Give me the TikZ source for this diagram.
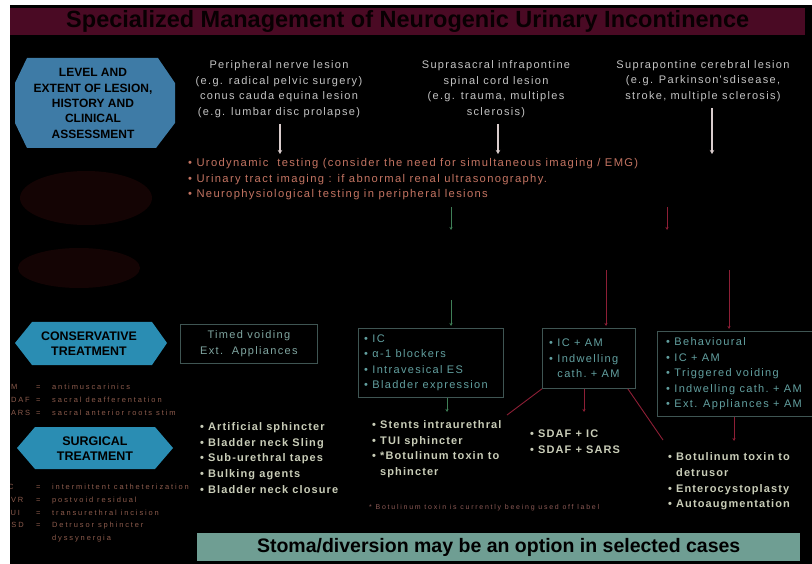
\documentclass[tikz,border=0pt]{standalone}
\usepackage{fontspec}
\setmainfont{Liberation Sans}
\newfontfamily\spaced[LetterSpace=12]{Liberation Sans}
\newfontfamily\spacedb[LetterSpace=10]{Liberation Sans}
\newfontfamily\spacedt[LetterSpace=25]{Liberation Sans}
\usetikzlibrary{arrows.meta}
\definecolor{titlebar}{HTML}{4A0A24}
\definecolor{titletext}{HTML}{080002}
\definecolor{lvlblue}{HTML}{3E7BA6}
\definecolor{hexblue}{HTML}{2A8DB3}
\definecolor{lblcol}{HTML}{C4C4C4}
\definecolor{salmon}{HTML}{C47462}
\definecolor{tealtxt}{HTML}{62A0A0}
\definecolor{tealgray}{HTML}{80A6A1}
\definecolor{boxline}{HTML}{3F5553}
\definecolor{surgcol}{HTML}{C9CDB8}
\definecolor{abbrcol}{HTML}{8C5B4C}
\definecolor{footcol}{HTML}{8C5A55}
\definecolor{barcol}{HTML}{6F9E93}
\definecolor{redline}{HTML}{8E1F36}
\definecolor{greenline}{HTML}{3F7F57}
\definecolor{darkell}{HTML}{140404}
\definecolor{arrcol}{HTML}{D9CCCC}
\begin{document}
\begin{tikzpicture}[x=1pt,y=-1pt,
  titlestyle/.style={fill=titlebar, inner sep=0pt, text=titletext, font=\bfseries\fontsize{23.5}{26}\selectfont},
  hexlbl/.style={align=center, inner sep=0pt, text=black},
  lbl/.style={font=\spaced\fontsize{11}{15.5}\selectfont, text=lblcol, align=center, inner sep=0pt},
  salm/.style={font=\spaced\fontsize{11.2}{15.7}\selectfont, text=salmon, align=left, inner sep=0pt},
  cbox/.style={draw=boxline, line width=0.8pt, inner sep=0pt},
  btxt/.style={font=\spaced\fontsize{11}{15.6}\selectfont, text=tealtxt, align=left, inner sep=0pt},
  surg/.style={font=\spacedb\bfseries\fontsize{11}{15.6}\selectfont, text=surgcol, align=left, inner sep=0pt},
  abbr/.style={font=\spacedt\fontsize{7.5}{12.9}\selectfont, text=abbrcol, inner sep=0pt},
  foot/.style={font=\spacedt\fontsize{7}{9}\selectfont, text=footcol, inner sep=0pt},
  arr/.style={draw=arrcol, line width=1.6pt, -{Stealth[length=4pt,width=4.5pt]}},
  garr/.style={draw=greenline, line width=0.9pt, -{Stealth[length=3pt,width=3pt]}},
  rarr/.style={draw=redline, line width=0.9pt, -{Stealth[length=3pt,width=3pt]}},
  rline/.style={draw=redline, line width=0.9pt}]
\useasboundingbox (0,0) rectangle (812,564);
\fill[black] (0,0) rectangle (812,564);
% title
\node[titlestyle, anchor=north west, minimum width=795pt, minimum height=27pt] (title) at (10,8) {Specialized Management of Neurogenic Urinary Incontinence};
% level octagon
\fill[lvlblue] (27,58) -- (158,58) -- (175,83) -- (175,123) -- (156,148) -- (27,148) -- (15,123) -- (15,83) -- cycle;
\node[hexlbl, font=\bfseries\fontsize{12}{15.3}\selectfont] (level) at (93,103.5) {LEVEL AND\\EXTENT OF LESION,\\HISTORY AND\\CLINICAL\\ASSESSMENT};
% dark ellipses
\fill[darkell] (86,198) ellipse [x radius=66pt, y radius=27pt];
\fill[darkell] (79,268) ellipse [x radius=61pt, y radius=20pt];
% lesion labels
\node[lbl] (les1) at (279,89) {Peripheral nerve lesion\\(e.g. radical pelvic surgery)\\conus cauda equina lesion\\(e.g. lumbar disc prolapse)};
\node[lbl] (les2) at (496,89) {Suprasacral infrapontine\\spinal cord lesion\\(e.g. trauma, multiples\\sclerosis)};
\node[lbl] (les3) at (703,81) {Suprapontine cerebral lesion\\(e.g. Parkinson'sdisease,\\stroke, multiple sclerosis)};
% tests
\node[salm, anchor=north west] (tests) at (188,158) {• Urodynamic\ \ testing (consider the need for simultaneous imaging / EMG)\\• Urinary tract imaging : if abnormal renal ultrasonography.\\• Neurophysiological testing in peripheral lesions};
\coordinate (t1) at (280,124);
\coordinate (t2) at (498,124);
\coordinate (t3) at (712,108);
\draw[arr, shorten >=4pt] (t1) -- (t1 |- tests.north);
\draw[arr, shorten >=4pt] (t2) -- (t2 |- tests.north);
\draw[arr, shorten >=4pt] (t3) -- (t3 |- tests.north);
% conservative boxes
\node[cbox, anchor=north west, minimum width=137pt, minimum height=39pt, align=center, text=tealgray, font=\spaced\fontsize{11}{15.6}\selectfont] (box1) at (180,324) {Timed voiding\\Ext.\ \ Appliances};
\node[cbox, anchor=north west, minimum width=145pt, minimum height=69pt] (box2) at (358,328) {};
\node[btxt, anchor=west] (box2t) at ([xshift=6pt]box2.west) {• IC\\• α-1 blockers\\• Intravesical ES\\• Bladder expression};
\node[cbox, anchor=north west, minimum width=93pt, minimum height=60pt] (box3) at (542,328) {};
\node[btxt, anchor=west] (box3t) at ([xshift=7pt]box3.west) {• IC + AM\\• Indwelling\\\hphantom{• }cath.\ + AM};
\node[cbox, anchor=north west, minimum width=155pt, minimum height=85pt] (box4) at (657,331) {};
\node[btxt, anchor=west] (box4t) at ([xshift=9pt]box4.west) {• Behavioural\\• IC + AM\\• Triggered voiding\\• Indwelling cath.\ + AM\\• Ext. Appliances + AM};
% faint connectors between tests and boxes
\coordinate (g1a) at (451,207);
\coordinate (g1b) at (451,230);
\draw[garr] (g1a) -- (g1b);
\coordinate (r1a) at (667,207);
\coordinate (r1b) at (667,230);
\draw[rarr] (r1a) -- (r1b);
\coordinate (g2a) at (451,300);
\draw[garr, shorten >=2pt] (g2a) -- (g2a |- box2.north);
\coordinate (r2a) at (606,270);
\draw[rarr, shorten >=2pt] (r2a) -- (r2a |- box3.north);
\coordinate (r3a) at (729,270);
\draw[rarr, shorten >=2pt] (r3a) -- (r3a |- box4.north);
% hexagons
\fill[hexblue] (15,343) -- (32,322) -- (152,322) -- (167,343) -- (152,365) -- (32,365) -- cycle;
\node[hexlbl, font=\bfseries\fontsize{12.4}{15}\selectfont] (cons) at (89,343.5) {CONSERVATIVE\\TREATMENT};
\fill[hexblue] (17,448) -- (35,427) -- (155,427) -- (173,448) -- (155,469) -- (35,469) -- cycle;
\node[hexlbl, font=\bfseries\fontsize{12.5}{15}\selectfont] (surgh) at (95,448.5) {SURGICAL\\TREATMENT};
% abbreviations
\node[abbr, anchor=west] (ab1) at (4,400) {\begin{tabular}{@{}p{32pt}@{}p{16pt}@{}l@{}}AM & = & antimuscarinics\\SDAF & = & sacral deafferentation\\SARS & = & sacral anterior roots stim\end{tabular}};
\node[abbr, anchor=west] (ab2) at (4,512.5) {\begin{tabular}{@{}p{32pt}@{}p{16pt}@{}l@{}}IC & = & intermittent catheterization\\PVR & = & postvoid residual\\TUI & = & transurethral incision\\DSD & = & Detrusor sphincter\\ & & dyssynergia\end{tabular}};
% surgical lists
\node[surg, anchor=west] (sg1) at (200,458) {• Artificial sphincter\\• Bladder neck Sling\\• Sub-urethral tapes\\• Bulking agents\\• Bladder neck closure};
\node[surg, anchor=west] (sg2) at (372,449) {• Stents intraurethral\\• TUI sphincter\\• *Botulinum toxin to\\\hphantom{• }sphincter};
\node[surg, anchor=west] (sg3) at (530,441.5) {• SDAF + IC\\• SDAF + SARS};
\node[surg, anchor=west] (sg4) at (668,481.5) {• Botulinum toxin to\\\hphantom{• }detrusor\\• Enterocystoplasty\\• Autoaugmentation};
% connectors below boxes
\coordinate (c2) at (447,412);
\draw[garr] (box2.south -| c2) -- (c2);
\coordinate (c3a) at (507,415);
\draw[rline] (box3.south west) -- (c3a);
\coordinate (c3b) at (584,412);
\draw[rarr] (box3.south -| c3b) -- (c3b);
\coordinate (c3c) at (663,440);
\draw[rline] ([xshift=-8pt]box3.south east) -- (c3c);
\coordinate (c4) at (734,441);
\draw[rarr] (box4.south -| c4) -- (c4);
% footnote
\node[foot, anchor=west] (fn) at (369,508) {* Botulinum toxin is currently beeing used off label};
% bottom bar
\node[anchor=north west, fill=barcol, minimum width=603pt, minimum height=28pt, inner sep=0pt, text=black, font=\bfseries\fontsize{19.5}{22}\selectfont] (stoma) at (197,533) {Stoma/diversion may be an option in selected cases};
% white margins
\fill[white] (0,0) rectangle (10,564);
\fill[white] (0,0) rectangle (812,5);
\end{tikzpicture}
\end{document}
